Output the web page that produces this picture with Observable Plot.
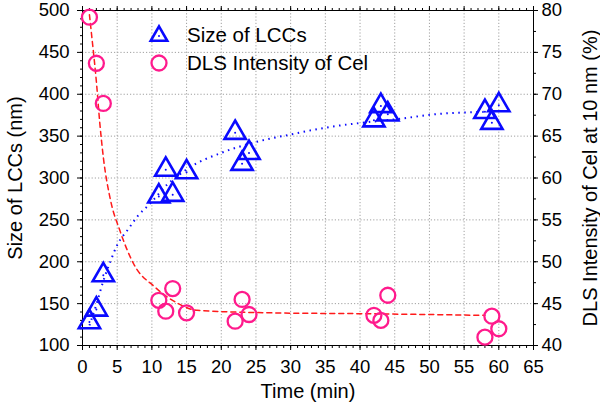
<!DOCTYPE html>
<html><head><meta charset="utf-8">
<script src="https://cdn.jsdelivr.net/npm/d3@7"></script>
<script src="https://cdn.jsdelivr.net/npm/@observablehq/plot@0.6"></script>
<style>
body{margin:0;background:#fff;}
#wrap{position:relative;width:600px;height:407px;font-family:"Liberation Sans",Arial,Helvetica,sans-serif;}
#legend{position:absolute;left:0;top:0;pointer-events:none;}
</style></head><body><div id="wrap"></div>
<script>
// Data
const lccTime = [1, 2, 3, 11, 12, 13, 15, 22, 23, 24, 42, 43, 44, 58, 59, 60];
const lccSize = [128, 143, 184, 278, 310, 280, 307, 354, 317, 330, 369, 386, 376, 379, 366, 387];
const celTime = [1, 2, 3, 11, 12, 13, 15, 22, 23, 24, 42, 43, 44, 58, 59, 60];
const celIntensity = [79.2, 73.7, 68.9, 45.4, 44.1, 46.8, 43.9, 42.9, 45.5, 43.7, 43.6, 43.0, 46.0, 41.0, 43.5, 42.0];
// Fitted curves
const lccFitTime = [1, 2, 3, 4, 5, 6.6, 8, 9.7, 12.3, 13.8, 15.5, 20, 25, 30, 35.7, 41, 45, 51.5, 58];
const lccFitSize = [124, 149, 177, 200, 220, 239, 255, 269, 293, 303, 313, 330, 343, 352, 361, 366.6, 370, 376.6, 379];
const celFitTime = [1, 1.35, 2, 2.5, 3, 4, 5.4, 7.4, 10.4, 13.8, 16.5, 27, 40, 58];
const celFitIntensity = [79.5, 76.8, 71.5, 66.5, 62.5, 57.5, 53.7, 49.7, 47, 45, 44.2, 43.9, 43.8, 43.6];
// Axis ticks
const xMajorTicks = [0, 5, 10, 15, 20, 25, 30, 35, 40, 45, 50, 55, 60, 65];
const xMinorTicks = d3.range(0, 66, 1);
const yLeftMajorTicks = [100, 150, 200, 250, 300, 350, 400, 450, 500];
const yLeftMinorTicks = d3.range(100, 501, 10);
const yRightMajorTicks = [40, 45, 50, 55, 60, 65, 70, 75, 80];
const yRightMinorTicks = d3.range(40, 80.01, 2.5);
const xGrid = [5, 10, 15, 20, 25, 30, 35, 40, 45, 50, 55, 60];
const yGrid = [150, 200, 250, 300, 350, 400, 450];

// right axis (40..80 %) shares the frame with left (100..500 nm)
const toLeft = v => 100 + (v - 40) * 10;
const fromLeft = v => 40 + (v - 100) / 10;

const lcc = lccTime.map((t, i) => ({t, v: lccSize[i]}));
const cel = celTime.map((t, i) => ({t, v: toLeft(celIntensity[i])}));
const lccFit = lccFitTime.map((t, i) => ({t, v: lccFitSize[i]}));
const celFit = celFitTime.map((t, i) => ({t, v: toLeft(celFitIntensity[i])}));

const blue = "#0a0aff", pink = "#ff1a8c", red = "#ff1a1a";
const none = () => "";
const font = 18.5;
const labelFont = 20;

const chart = Plot.plot({
  width: 600, height: 407,
  marginLeft: 82, marginRight: 67, marginTop: 10, marginBottom: 62,
  style: {fontFamily: '"Liberation Sans", Arial, Helvetica, sans-serif', color: "#000", background: "#fff", fontSize: labelFont + "px"},
  x: {domain: [0, 65]},
  y: {domain: [100, 500]},
  marks: [
    Plot.gridX(xGrid, {stroke: "#a0a0a0", strokeOpacity: 1, strokeDasharray: "1.2,2"}),
    Plot.gridY(yGrid, {stroke: "#a0a0a0", strokeOpacity: 1, strokeDasharray: "1.2,2"}),
    Plot.frame({stroke: "#000", strokeWidth: 1}),
    // bottom
    Plot.axisX(xMinorTicks, {anchor: "bottom", tickSize: 3, tickFormat: none, label: null}),
    Plot.axisX(xMajorTicks, {anchor: "bottom", tickSize: 5, tickPadding: 9, fontSize: font, label: null}),
    Plot.axisX([], {anchor: "bottom", tickSize: 0, label: "Time (min)", labelAnchor: "center", labelOffset: 52, labelArrow: "none", fontSize: labelFont}),
    // top
    Plot.axisX(xMinorTicks, {anchor: "top", tickSize: 3, tickFormat: none, label: null}),
    Plot.axisX(xMajorTicks, {anchor: "top", tickSize: 5, tickFormat: none, label: null}),
    // left
    Plot.axisY(yLeftMinorTicks, {anchor: "left", tickSize: 2, tickFormat: none, label: null}),
    Plot.axisY(yLeftMajorTicks, {anchor: "left", tickSize: 5, tickPadding: 8, fontSize: font, label: null}),
    Plot.axisY([], {anchor: "left", tickSize: 0, label: "Size of LCCs (nm)", labelAnchor: "center", labelOffset: 75, labelArrow: "none", fontSize: labelFont}),
    // right
    Plot.axisY(yRightMinorTicks.map(toLeft), {anchor: "right", tickSize: 2, tickFormat: none, label: null}),
    Plot.axisY(yRightMajorTicks.map(toLeft), {anchor: "right", tickSize: 4, tickPadding: 4, fontSize: font, tickFormat: d => String(fromLeft(d)), label: null}),
    Plot.axisY([], {anchor: "right", tickSize: 0, label: "DLS Intensity of Cel at 10 nm (%)", labelAnchor: "center", labelOffset: 63, labelArrow: "none", fontSize: labelFont}),
    // fits
    Plot.line(lccFit, {x: "t", y: "v", curve: "monotone-x", stroke: blue, strokeWidth: 2, strokeDasharray: "1.5,4.5", strokeLinecap: "butt"}),
    Plot.line(celFit, {x: "t", y: "v", curve: "monotone-x", stroke: red, strokeWidth: 1.5, strokeDasharray: "5,4"}),
    // markers
    Plot.dot(cel, {x: "t", y: "v", r: 7.5, stroke: pink, strokeWidth: 2.3, fill: "none"}),
    Plot.dot(lcc, {x: "t", y: "v", symbol: "triangle", r: 7.9, stroke: blue, strokeWidth: 2.6, fill: "none"}),
    Plot.dot(lcc, {x: "t", y: "v", r: 1, fill: blue, stroke: null})
  ]
});
const wrap = document.getElementById("wrap");
wrap.appendChild(chart);

// legend overlay
const lg = d3.select(wrap).append("svg").attr("id", "legend").attr("width", 600).attr("height", 407);
const items = [
  {label: "Size of LCCs", sym: "triangle"},
  {label: "DLS Intensity of Cel", sym: "circle"}
];
items.forEach((it, i) => {
  const cy = 35 + i * 28, cx = 159;
  if (it.sym === "triangle") {
    lg.append("path").attr("d", d3.symbol(d3.symbolTriangle2, Math.PI * 7.9 * 7.9)())
      .attr("transform", `translate(${cx},${cy + 1})`).attr("fill", "none").attr("stroke", blue).attr("stroke-width", 2.6);
    lg.append("circle").attr("cx", cx).attr("cy", cy + 1).attr("r", 1).attr("fill", blue);
  } else {
    lg.append("circle").attr("cx", cx).attr("cy", cy).attr("r", 7.5).attr("fill", "none").attr("stroke", pink).attr("stroke-width", 2.3);
  }
  lg.append("text").attr("x", 187).attr("y", cy).attr("dy", "0.35em")
    .attr("font-size", 20.5).attr("font-family", '"Liberation Sans", Arial, sans-serif').text(it.label);
});
</script></body></html>
